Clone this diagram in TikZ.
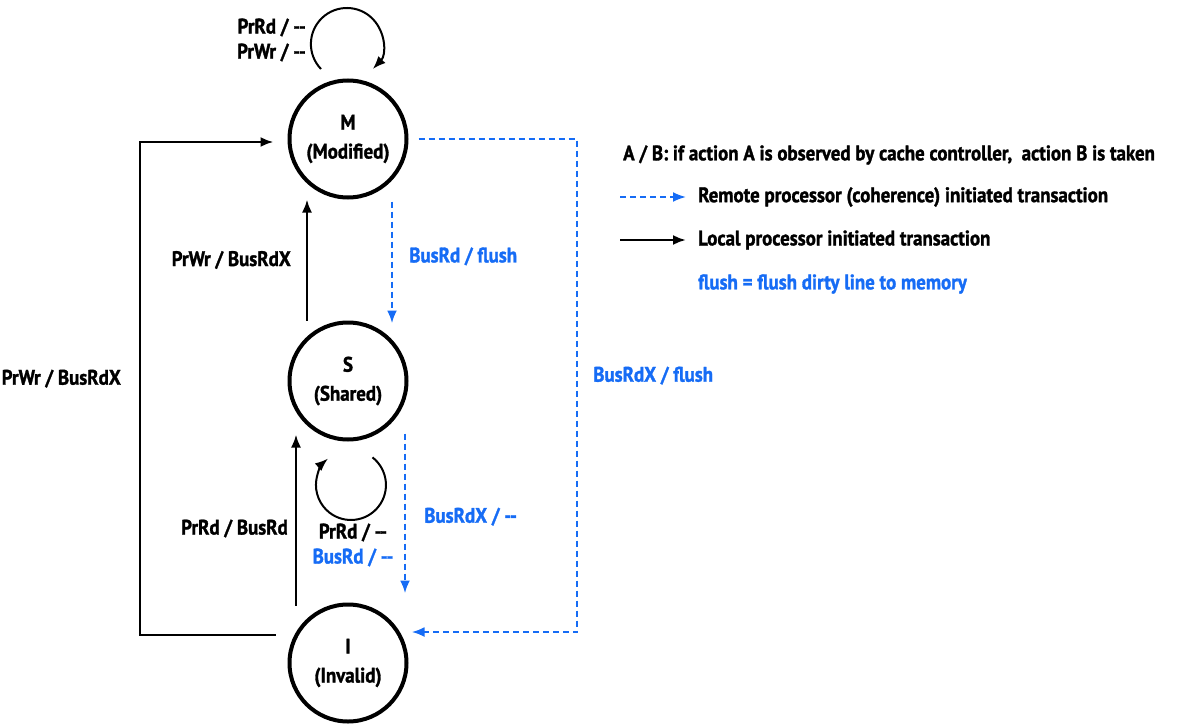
\documentclass[tikz,border=0pt]{standalone}
\usepackage{fontspec}
\setmainfont{PT Sans}[BoldFont={PT Sans Bold}, BoldFeatures={FakeBold=1.4}, FakeStretch=0.9]
\usepackage{xcolor}
\usetikzlibrary{positioning,arrows.meta}
\definecolor{remoteblue}{RGB}{22,108,245}
\newcommand{\nop}{{-}{-}}
\tikzstyle{state} = [draw, circle, line width=4pt, minimum size=117pt,
inner sep=0pt, align=center, font=\fontsize{21}{25}\selectfont\bfseries]
\tikzstyle{local} = [draw, ->, line width=2.4pt]
\tikzstyle{remote} = [draw, ->, remoteblue, line width=2.6pt, dash pattern=on 6pt off 4pt]
\tikzstyle{selfloop} = [draw, ->, line width=2pt]
\tikzstyle{lbl} = [font=\fontsize{21}{25}\selectfont\bfseries, inner sep=0pt]

\begin{document}
\begin{tikzpicture}[x=1pt, y=-1pt, >={Latex[length=13pt,width=10pt]}]
	\useasboundingbox (0,0) rectangle (1178,725);
	% We start by placing the three states
	\node [state] (M) at (348,139) {M\\[4pt](Modified)};
	\node [state] (S) at (348,381) {S\\[4pt](Shared)};
	\node [state] (I) at (348,663) {I\\[4pt](Invalid)};
	\coordinate (lfthigh) at (140,142);
	\coordinate (flushcorner) at (577,632);

	% Local processor transactions
	\draw [local] ([xshift=-41pt]S.north) -- node[lbl, left=15pt] {PrWr / BusRdX} ([xshift=-41pt]M.south);
	\draw [local] ([shift={(-52,3)}]I.north) -- node[lbl, left=7pt, pos=0.45] {PrRd / BusRd} ([shift={(-52,-7)}]S.south);
	\draw [local] ([shift={(-12,-28)}]I.west) -| node[lbl, left=18pt, pos=0.76] {PrWr / BusRdX} (lfthigh) -- ([shift={(-14,3)}]M.west);

	% Remote (coherence) transactions
	\draw [remote] ([shift={(44,2)}]M.south) -- node[lbl, remoteblue, right=16pt, pos=0.45] {BusRd / flush} ([shift={(44,3)}]S.north);
	\draw [remote] ([shift={(57,-8)}]S.south) -- node[lbl, remoteblue, right=18pt, pos=0.52] {BusRdX / \nop} ([shift={(57,-9)}]I.north);
	\draw [remote] ([xshift=10pt]M.east) -| node[lbl, remoteblue, right=15pt, pos=0.74] {BusRdX / flush} (flushcorner) -- ([xshift=3pt]I.east |- flushcorner);

	% Self loops
	\draw [selfloop] ([shift={(-27,-70)}]M.center) arc[start angle=224, end angle=-44, radius=36pt];
	\node [lbl, align=right, anchor=east] (mloop) at (306,40) {PrRd / \nop\\PrWr / \nop};
	\draw [selfloop] ([shift={(24.5,76.4)}]S.center) arc[start angle=52, end angle=-229, radius=35pt];
	\node [lbl, align=center] (sloop) at (353,545) {PrRd / \nop\\\textcolor{remoteblue}{BusRd / \nop}};

	% Legend
	\node [lbl, anchor=west] (key) at (623,155) {A / B: if action A is observed by cache controller,\ \ action B is taken};
	\node [lbl, anchor=west] (keyremote) at (698,197) {Remote processor (coherence) initiated transaction};
	\node [lbl, anchor=west] (keylocal) at (698,240) {Local processor initiated transaction};
	\node [lbl, anchor=west, remoteblue] (keyflush) at (698,284) {flush = flush dirty line to memory};
	\coordinate (rstart) at (620,197);
	\coordinate (lstart) at (620,240);
	\draw [remote, line width=2pt] (rstart) -- ([xshift=-12pt]keyremote.west);
	\draw [local] (lstart) -- ([xshift=-12pt]keylocal.west);
\end{tikzpicture}
\end{document}
